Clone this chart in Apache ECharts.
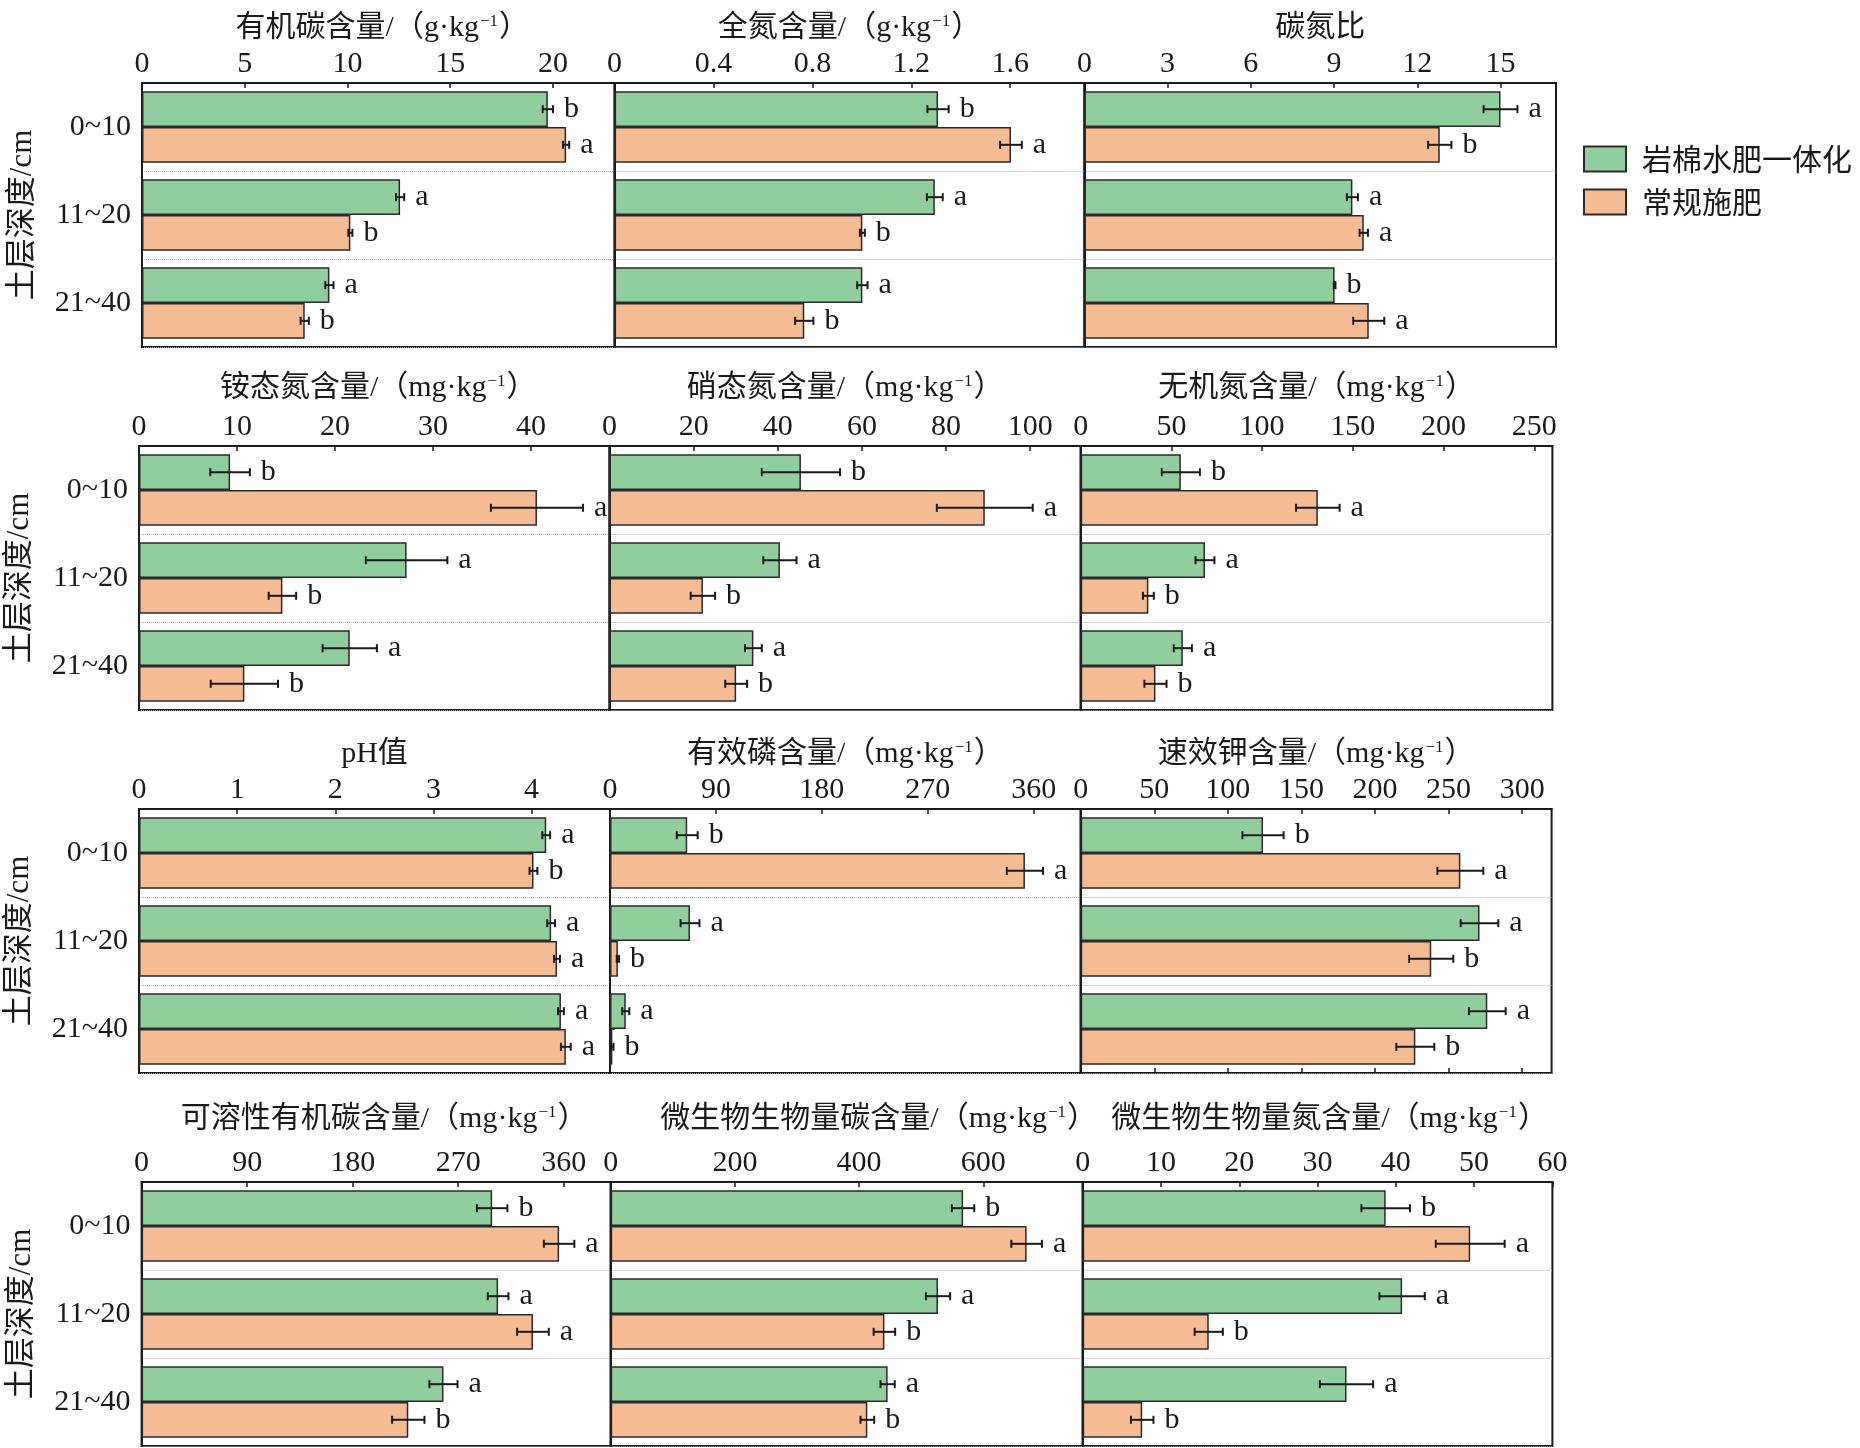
<!DOCTYPE html>
<html>
<head>
<meta charset="utf-8">
<script src="https://cdn.jsdelivr.net/npm/echarts@6/dist/echarts.min.js"></script>
<style>
html, body { margin: 0; padding: 0; background: #fff; }
#main { width: 1860px; height: 1448px; }
</style>
</head>
<body>
<div id="main"></div>
<script>
/*########  数据  ########*/
var depth = ['0~10', '11~20', '21~40'];
var nameA = '岩棉水肥一体化', nameB = '常规施肥';

// 有机碳
var socA = [19.75, 12.56, 9.12], socAErr = [0.25, 0.2, 0.2], socASig = ['b', 'a', 'a'];
var socB = [20.64, 10.14, 7.92], socBErr = [0.15, 0.1, 0.2], socBSig = ['a', 'b', 'b'];
var socTicks = [0, 5, 10, 15, 20];
// 全氮
var tnA = [1.308, 1.295, 1.002], tnAErr = [0.043, 0.032, 0.021], tnASig = ['b', 'a', 'a'];
var tnB = [1.603, 1.002, 0.767], tnBErr = [0.044, 0.01, 0.037], tnBSig = ['a', 'b', 'b'];
var tnTicks = [0, 0.4, 0.8, 1.2, 1.6];
// 碳氮比
var cnA = [15.0, 9.66, 9.02], cnAErr = [0.61, 0.2, 0.03], cnASig = ['a', 'a', 'b'];
var cnB = [12.81, 10.07, 10.25], cnBErr = [0.42, 0.15, 0.56], cnBSig = ['b', 'a', 'a'];
var cnTicks = [0, 3, 6, 9, 12, 15];
// 铵态氮
var nh4A = [9.29, 27.3, 21.5], nh4AErr = [2.02, 4.16, 2.77], nh4ASig = ['b', 'a', 'a'];
var nh4B = [40.6, 14.63, 10.75], nh4BErr = [4.7, 1.4, 3.43], nh4BSig = ['a', 'b', 'b'];
var nh4Ticks = [0, 10, 20, 30, 40];
// 硝态氮
var no3A = [45.5, 40.5, 34.2], no3AErr = [9.3, 3.95, 2.0], no3ASig = ['b', 'a', 'a'];
var no3B = [89.2, 22.2, 30.1], no3BErr = [11.4, 2.9, 2.6], no3BSig = ['a', 'b', 'b'];
var no3Ticks = [0, 20, 40, 60, 80, 100];
// 无机氮
var inA = [55.2, 68.5, 56.3], inAErr = [10.5, 5.2, 5.0], inASig = ['b', 'a', 'a'];
var inB = [130.7, 37.3, 41.2], inBErr = [12, 3, 6.1], inBSig = ['a', 'b', 'b'];
var inTicks = [0, 50, 100, 150, 200, 250];
// pH
var phA = [4.15, 4.20, 4.30], phAErr = [0.04, 0.04, 0.03], phASig = ['a', 'a', 'a'];
var phB = [4.02, 4.26, 4.35], phBErr = [0.04, 0.03, 0.05], phBSig = ['b', 'a', 'a'];
var phTicks = [0, 1, 2, 3, 4];
// 有效磷
var apA = [65.6, 68, 13.4], apAErr = [8.9, 8, 3], apASig = ['b', 'a', 'a'];
var apB = [352.6, 6.7, 2.0], apBErr = [15.4, 1, 1], apBSig = ['a', 'b', 'b'];
var apTicks = [0, 90, 180, 270, 360];
// 速效钾
var akA = [123.9, 271, 276.3], akAErr = [14, 12.8, 12.5], akASig = ['b', 'a', 'a'];
var akB = [258, 238.2, 227.4], akBErr = [15.6, 15, 12.9], akBSig = ['a', 'b', 'b'];
var akTicks = [0, 50, 100, 150, 200, 250, 300];
// 可溶性有机碳
var docA = [298.9, 304, 257.4], docAErr = [13, 8.8, 12], docASig = ['b', 'a', 'a'];
var docB = [356, 333.7, 227.4], docBErr = [13, 13.5, 13.8], docBSig = ['a', 'a', 'b'];
var docTicks = [0, 90, 180, 270, 360];
// 微生物生物量碳
var mbcA = [567.4, 527, 445.9], mbcAErr = [18, 19.5, 11.5], mbcASig = ['b', 'a', 'a'];
var mbcB = [669.7, 440.7, 413.2], mbcBErr = [24.6, 17.3, 11], mbcBSig = ['a', 'b', 'b'];
var mbcTicks = [0, 200, 400, 600];
// 微生物生物量氮
var mbnA = [38.7, 40.8, 33.7], mbnAErr = [3.1, 2.9, 3.4], mbnASig = ['b', 'a', 'a'];
var mbnB = [49.5, 16.1, 7.6], mbnBErr = [4.4, 1.8, 1.44], mbnBSig = ['a', 'b', 'b'];
var mbnTicks = [0, 10, 20, 30, 40, 50, 60];

var panels = [
    {title: '有机碳含量', unit: 'g', max: 23, ticks: socTicks, a: socA, ae: socAErr, as: socASig, b: socB, be: socBErr, bs: socBSig},
    {title: '全氮含量', unit: 'g', max: 1.9, ticks: tnTicks, a: tnA, ae: tnAErr, as: tnASig, b: tnB, be: tnBErr, bs: tnBSig},
    {title: '碳氮比', unit: '', max: 17, ticks: cnTicks, a: cnA, ae: cnAErr, as: cnASig, b: cnB, be: cnBErr, bs: cnBSig},
    {title: '铵态氮含量', unit: 'mg', max: 48, ticks: nh4Ticks, a: nh4A, ae: nh4AErr, as: nh4ASig, b: nh4B, be: nh4BErr, bs: nh4BSig},
    {title: '硝态氮含量', unit: 'mg', max: 112, ticks: no3Ticks, a: no3A, ae: no3AErr, as: no3ASig, b: no3B, be: no3BErr, bs: no3BSig},
    {title: '无机氮含量', unit: 'mg', max: 260, ticks: inTicks, a: inA, ae: inAErr, as: inASig, b: inB, be: inBErr, bs: inBSig},
    {title: 'pH值', unit: '', max: 4.8, ticks: phTicks, a: phA, ae: phAErr, as: phASig, b: phB, be: phBErr, bs: phBSig},
    {title: '有效磷含量', unit: 'mg', max: 400, ticks: apTicks, a: apA, ae: apAErr, as: apASig, b: apB, be: apBErr, bs: apBSig},
    {title: '速效钾含量', unit: 'mg', max: 320, ticks: akTicks, a: akA, ae: akAErr, as: akASig, b: akB, be: akBErr, bs: akBSig},
    {title: '可溶性有机碳含量', unit: 'mg', max: 400, ticks: docTicks, a: docA, ae: docAErr, as: docASig, b: docB, be: docBErr, bs: docBSig},
    {title: '微生物生物量碳含量', unit: 'mg', max: 760, ticks: mbcTicks, a: mbcA, ae: mbcAErr, as: mbcASig, b: mbcB, be: mbcBErr, bs: mbcBSig},
    {title: '微生物生物量氮含量', unit: 'mg', max: 60, ticks: mbnTicks, a: mbnA, ae: mbnAErr, as: mbnASig, b: mbnB, be: mbnBErr, bs: mbnBSig}
];

/*########  布局与样式  ########*/
var rowTop = [83, 446, 809, 1182], rowH = 264;
var colEdges = [
    [142, 614.6, 1084.4, 1556],
    [139, 609.5, 1080.7, 1552.4],
    [139, 610, 1080.7, 1551.6],
    [141.6, 610.7, 1082.7, 1552.4]
];
var titleGap = [40, 43, 40, 48];
// 标题水平偏移（像素）
var titleShift = [4, 0, 0, 4, 0, 0, 0, 0, 0, 8, 32, 12];
var serif = '"Liberation Serif", "Noto Sans CJK SC", serif';
var ink = '#1a1a1a';
var green = '#91ce9e', orange = '#f5bc94';

function errRender(sig, side) {
    return function (params, api) {
        var v = api.value(0), idx = api.value(1), e = api.value(2);
        var band = api.size([0, 1])[1];
        var bw = band * 0.81 / 2;
        var yc = api.coord([v, idx])[1] + side * bw / 2;
        var x1 = api.coord([v - e, idx])[0], x2 = api.coord([v + e, idx])[0];
        var cap = 4;
        var st = {stroke: ink, lineWidth: 2};
        return {
            type: 'group',
            children: [
                {type: 'line', shape: {x1: x1, y1: yc, x2: x2, y2: yc}, style: st},
                {type: 'line', shape: {x1: x1, y1: yc - cap, x2: x1, y2: yc + cap}, style: st},
                {type: 'line', shape: {x1: x2, y1: yc - cap, x2: x2, y2: yc + cap}, style: st},
                {type: 'text', x: x2 + 11, y: yc, style: {
                    text: sig[params.dataIndex], fontSize: 30, fontFamily: serif,
                    fill: ink, align: 'left', verticalAlign: 'middle'}}
            ]
        };
    };
}

var grids = [], xAxes = [], yAxes = [], series = [];

panels.forEach(function (p, k) {
    var r = Math.floor(k / 3), c = k % 3;
    var x0 = colEdges[r][c], x1 = colEdges[r][c + 1];
    grids.push({
        left: x0, top: rowTop[r], width: x1 - x0, height: rowH,
        show: true, borderColor: ink, borderWidth: 2,
        containLabel: false, outerBoundsMode: 'none'
    });
    var name = p.unit ? '{t|' + p.title + '/（' + p.unit + '·kg}{s|−1}{t|）}' : '{t|' + p.title + '}';
    xAxes.push({
        gridIndex: k, type: 'value', position: 'top', min: 0, max: p.max,
        name: name, nameLocation: 'middle', nameGap: titleGap[r],
        nameTextStyle: {
            padding: [0, 0, 0, titleShift[k] * 2],
            rich: {
                t: {fontSize: 30, fontFamily: serif, color: ink},
                s: {fontSize: 17, fontFamily: serif, color: ink, verticalAlign: 'top', padding: [0, 1, 0, 1]}
            }
        },
        axisLine: {show: true, lineStyle: {color: ink, width: 2}},
        axisTick: {show: true, inside: true, length: 5, customValues: p.ticks, lineStyle: {color: ink, width: 1.5}},
        axisLabel: {customValues: p.ticks, fontSize: 30, fontFamily: serif, color: ink, margin: 4},
        splitLine: {show: false}
    });
    yAxes.push({
        gridIndex: k, type: 'category', data: depth, inverse: true,
        name: c === 0 ? '土层深度/cm' : '', nameLocation: 'middle', nameRotate: 90, nameGap: 104,
        nameTextStyle: {fontSize: 31, fontFamily: serif, color: ink},
        axisLine: {show: true, lineStyle: {color: ink, width: 2}},
        axisTick: {show: true, inside: true, alignWithLabel: true, length: 5, lineStyle: {color: ink, width: 1.5}},
        axisLabel: {show: c === 0, fontSize: 30, fontFamily: serif, color: ink, margin: 11},
        splitLine: {show: true, interval: 0, lineStyle: {type: 'dotted', color: '#b0b0b0', width: 1}}
    });
    series.push({
        type: 'bar', name: nameA, xAxisIndex: k, yAxisIndex: k, data: p.a,
        barGap: '0%', barCategoryGap: '19%',
        itemStyle: {color: green, borderColor: '#2a2a2a', borderWidth: 1.5}
    });
    series.push({
        type: 'bar', name: nameB, xAxisIndex: k, yAxisIndex: k, data: p.b,
        barGap: '0%', barCategoryGap: '19%',
        itemStyle: {color: orange, borderColor: '#2a2a2a', borderWidth: 1.5}
    });
    series.push({
        type: 'custom', xAxisIndex: k, yAxisIndex: k, z: 5,
        encode: {x: 0, y: 1},
        data: p.a.map(function (v, i) { return [v, i, p.ae[i]]; }),
        renderItem: errRender(p.as, -1)
    });
    series.push({
        type: 'custom', xAxisIndex: k, yAxisIndex: k, z: 5,
        encode: {x: 0, y: 1},
        data: p.b.map(function (v, i) { return [v, i, p.be[i]]; }),
        renderItem: errRender(p.bs, 1)
    });
});

// 速效钾 bottom ticks
xAxes.push({
    gridIndex: 8, type: 'value', position: 'bottom', min: 0, max: panels[8].max,
    axisLine: {show: false},
    axisTick: {show: true, inside: true, length: 5, customValues: akTicks, lineStyle: {color: ink, width: 1.5}},
    axisLabel: {show: false},
    splitLine: {show: false}
});

var dom = document.getElementById('main');
var myChart = echarts.init(dom);
var option = {
    animation: false,
    backgroundColor: '#fff',
    textStyle: {fontFamily: serif},
    legend: {
        data: [nameA, nameB],
        orient: 'vertical', left: 1578, top: 139,
        icon: 'rect', itemWidth: 42, itemHeight: 25, itemGap: 13,
        selectedMode: false,
        textStyle: {fontSize: 30, fontFamily: '"Noto Sans CJK SC"', color: ink, padding: [0, 0, 0, 11]}
    },
    grid: grids,
    xAxis: xAxes,
    yAxis: yAxes,
    series: series
};
myChart.setOption(option);
</script>
</body>
</html>
